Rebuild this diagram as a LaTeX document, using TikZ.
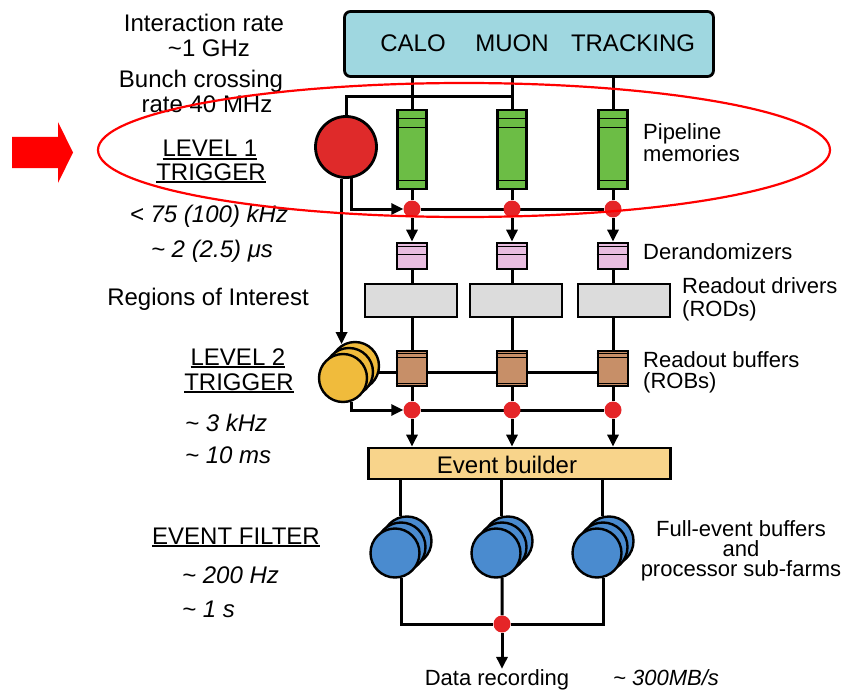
\documentclass[tikz,border=0pt]{standalone}
\usepackage{fontspec}
\setmainfont{Liberation Sans}
\usetikzlibrary{arrows.meta,backgrounds}
\definecolor{detcyan}{HTML}{9FD7E0}
\definecolor{pipegreen}{HTML}{6CBD45}
\definecolor{derpink}{HTML}{E8BCDF}
\definecolor{rodgrey}{HTML}{DCDCDC}
\definecolor{robbrown}{HTML}{C78F68}
\definecolor{trigred}{HTML}{DF2A2A}
\definecolor{trigyellow}{HTML}{F0BB3C}
\definecolor{farmblue}{HTML}{4A8BCF}
\definecolor{builderorange}{HTML}{F8D48B}
\definecolor{dotred}{HTML}{E52528}
\newcommand\ulbox[1]{\setbox0\hbox{#1}\rlap{\rule[-3pt]{\wd0}{1.6pt}}\box0}
\tikzset{
  wire/.style = {draw, line width=3pt},
  tip/.style = {wire, -{Triangle[length=12pt,width=11pt]}},
  detbox/.style = {draw, rounded corners=6pt, fill=detcyan, line width=2.8pt,
    minimum width=369pt, minimum height=65pt},
  pipe/.style = {draw, fill=pipegreen, line width=2.8pt, inner sep=0pt,
    minimum width=29pt, minimum height=79pt},
  derand/.style = {draw, fill=derpink, line width=2.8pt, inner sep=0pt,
    minimum width=30pt, minimum height=26pt},
  rod/.style = {draw, fill=rodgrey, line width=2.8pt, inner sep=0pt,
    minimum width=92pt, minimum height=33pt},
  rob/.style = {draw, fill=robbrown, line width=2.8pt, inner sep=0pt,
    minimum width=30pt, minimum height=35pt},
  builder/.style = {draw, fill=builderorange, line width=2.8pt, inner sep=0pt,
    minimum width=302pt, minimum height=31pt},
  junction/.style = {circle, fill=dotred, inner sep=0pt, minimum size=17pt},
  l1trig/.style = {circle, draw, fill=trigred, line width=2.8pt, inner sep=0pt,
    minimum size=61pt},
  l2trig/.style = {circle, draw, fill=trigyellow, line width=2.4pt, inner sep=0pt,
    minimum size=48pt},
  farm/.style = {circle, draw, fill=farmblue, line width=2.4pt, inner sep=0pt,
    minimum size=49pt},
  stripe/.style = {line width=1.5pt},
  lbl/.style = {inner sep=0pt, anchor=base, font=\fontsize{24}{26}\selectfont},
  rlbl/.style = {inner sep=0pt, anchor=base west, font=\fontsize{22}{24}\selectfont},
  llbl/.style = {lbl, anchor=base west, font=\fontsize{24}{26}\selectfont\itshape}
}
\begin{document}
\begin{tikzpicture}[x=1pt, y=-1pt]
\useasboundingbox (0,0) rectangle (846,690);

% detectors
\node[detbox] (det) at (529,44) {};
\node[lbl] (calo) at (413,52) {CALO};
\node[lbl] (muon) at (512,52) {MUON};
\node[lbl] (trk) at (633,52) {TRACKING};

% readout columns
\foreach \i/\x/\r in {1/412/411, 2/512/516, 3/613/624} {
  \node[pipe] (p\i) at (\x,149.5) {};
  \node[junction] (d\i) at (\x,209) {};
  \node[derand] (dr\i) at (\x,256) {};
  \node[rod] (rod\i) at (\r,300.5) {};
  \node[rob] (rb\i) at (\x,368.5) {};
  \node[junction] (e\i) at (\x,410) {};
  \draw[stripe] ([yshift=-10pt]p\i.north west) -- ([yshift=-10pt]p\i.north east);
  \draw[stripe] ([yshift=-19pt]p\i.north west) -- ([yshift=-19pt]p\i.north east);
  \draw[stripe] ([yshift=10pt]p\i.south west) -- ([yshift=10pt]p\i.south east);
  \draw[stripe] ([yshift=-5pt]dr\i.north west) -- ([yshift=-5pt]dr\i.north east);
  \draw[stripe] ([yshift=-13pt]dr\i.north west) -- ([yshift=-13pt]dr\i.north east);
  \draw[stripe] ([yshift=-4pt]rb\i.north west) -- ([yshift=-4pt]rb\i.north east);
  \draw[stripe] ([yshift=-8pt]rb\i.north west) -- ([yshift=-8pt]rb\i.north east);
  \draw[stripe] ([yshift=4pt]rb\i.south west) -- ([yshift=4pt]rb\i.south east);
}

% triggers
\node[l1trig] (l1) at (346,147) {};
\node[l2trig] (l2c) at (355,366) {};
\node[l2trig] (l2b) at (349,372) {};
\node[l2trig] (l2a) at (343,378) {};
\coordinate (tap) at (512,97);

% event builder and farms
\node[builder] (eb) at (519.5,463.5) {};
\node[lbl] (ebl) at (507,473) {Event builder};
\foreach \n/\x in {f1/395, f2/496, f3/597} {
  \node[farm] (\n-c) at (\x+12,541) {};
  \node[farm] (\n-b) at (\x+6,547) {};
  \node[farm] (\n-a) at (\x,553) {};
}
\node[junction] (fr) at (502,624) {};
\node[rlbl, anchor=base] (rec) at (497,685) {Data recording};
\node[rlbl, font=\fontsize{22}{24}\selectfont\itshape] (rate) at (613,685) {\textasciitilde{} 300MB/s};

\begin{scope}[on background layer]
  \foreach \i in {1,2,3} {
    \path[wire] (det.south -| p\i.north) -- (p\i.north);
    \path[wire] (p\i.south) -- (d\i);
    \path[tip] (d\i) -- (dr\i.north);
    \path[wire] (dr\i.south) -- (dr\i.south |- rod\i.north);
    \path[wire] (rod\i.south -| rb\i.north) -- (rb\i.north);
    \path[wire] (rb\i.south) -- (e\i);
    \path[tip] (e\i) -- (e\i |- eb.north);
    \path[wire] (eb.south -| f\i-c.104) -- (f\i-c.104);
  }
  \path[wire] (l1.north) |- (tap);
  \path[wire] (d1) -- (d3);
  \path[wire] (e1) -- (e3);
  \path[tip] (l1.-80) |- (d1.west);
  \path[tip] (l1.-98) -- (l1.-98 |- l2c.120);
  \path[wire] (l2c.-15) -- (l2c.-15 -| rb3.west);
  \path[tip] (l2a.-70) |- (e1.west);
  \path[wire] (f1-a.-76) |- (fr) -| (f3-a.-76);
  \path[wire] (f2-a.-76) -- (fr);
  \path[tip] (fr) -- (fr |- rec.north);
\end{scope}

% left side rates
\node[lbl] (ir1) at (204,32) {Interaction rate};
\node[lbl] (ir2) at (209,57) {\textasciitilde1 GHz};
\node[lbl] (bc1) at (201,88) {Bunch crossing};
\node[lbl] (bc2) at (207,113) {rate 40 MHz};
\node[lbl] (lv1a) at (210,157) {\ulbox{LEVEL 1}};
\node[lbl] (lv1b) at (211,180) {\ulbox{TRIGGER}};
\node[lbl, font=\fontsize{24}{26}\selectfont\itshape] (rt1) at (209,222) {< 75 (100) kHz};
\node[lbl, font=\fontsize{24}{26}\selectfont\itshape] (lt1) at (212,257) {\textasciitilde{} 2 (2.5) μs};
\node[lbl] (roi) at (208,305) {Regions of Interest};
\node[lbl] (lv2a) at (238,365) {\ulbox{LEVEL 2}};
\node[lbl] (lv2b) at (239,390) {\ulbox{TRIGGER}};
\node[llbl] (rt2) at (185,431) {\textasciitilde{} 3 kHz};
\node[llbl] (lt2) at (185,463) {\textasciitilde{} 10 ms};
\node[lbl] (efl) at (236,544) {\ulbox{EVENT FILTER}};
\node[llbl] (rt3) at (182,583) {\textasciitilde{} 200 Hz};
\node[llbl] (lt3) at (182,617) {\textasciitilde{} 1 s};

% right side labels
\node[rlbl] (pm1) at (643,140) {Pipeline};
\node[rlbl] (pm2) at (643,161) {memories};
\node[rlbl] (der) at (643,259) {Derandomizers};
\node[rlbl] (rdl1) at (682,293) {Readout drivers};
\node[rlbl] (rdl2) at (682,316) {(RODs)};
\node[rlbl] (rbl1) at (643,367) {Readout buffers};
\node[rlbl] (rbl2) at (643,388) {(ROBs)};
\node[rlbl, anchor=base] (fe1) at (741,536) {Full-event buffers};
\node[rlbl, anchor=base] (fe2) at (741,556) {and};
\node[rlbl, anchor=base] (fe3) at (741,576) {processor sub-farms};

% highlight
\fill[red] (12,137) -- (58,137) -- (58,122) -- (73,152.5) -- (58,183) -- (58,168)
  -- (12,168) -- cycle;
\draw[red, line width=2.2pt] (464,150) ellipse [x radius=366pt, y radius=67pt];
\end{tikzpicture}
\end{document}
